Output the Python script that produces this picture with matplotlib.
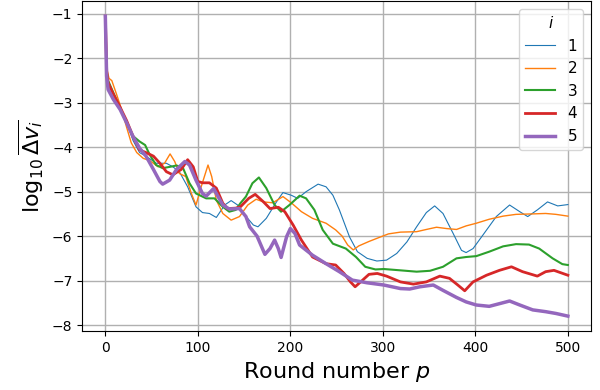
import matplotlib
matplotlib.use("Agg")
import matplotlib.pyplot as plt

# Series 1
p_1 = [0, 1.5, 3, 8.6, 16, 23, 30, 37, 44, 55, 66, 73, 80, 89, 98, 105, 112.5, 120,
       129, 136, 143, 151, 160, 165, 174, 185, 192, 201, 208, 217, 230, 238.6, 246,
       253, 264, 272.5, 283, 293.5, 304, 315, 326, 336.5, 347, 356, 365, 376, 385,
       390, 397.5, 408, 422.6, 437, 448, 456.6, 467, 478, 489, 500]
v_1 = [-1.05, -2.35, -2.6, -2.78, -3.1, -3.44, -3.85, -4.12, -4.2, -4.36, -4.36, -4.44,
       -4.55, -4.89, -5.34, -5.47, -5.49, -5.58, -5.3, -5.2, -5.3, -5.53, -5.75, -5.79,
       -5.6, -5.23, -5.02, -5.08, -5.15, -5.0, -4.83, -4.89, -5.08, -5.41, -6.02, -6.35,
       -6.5, -6.56, -6.54, -6.39, -6.13, -5.79, -5.47, -5.32, -5.49, -5.94, -6.32,
       -6.37, -6.28, -5.98, -5.56, -5.3, -5.45, -5.56, -5.41, -5.23, -5.32, -5.29]

# Series 2
p_2 = [0, 1, 4, 7, 12, 17.6, 23, 28, 34, 41, 48, 57, 64, 70, 75, 80, 87, 93, 98,
       103.6, 111, 115, 120, 127, 136, 145, 154, 163, 171, 181, 192, 201, 212, 224,
       238.6, 249, 256, 262, 268, 274, 285, 296, 306, 319, 336.5, 347, 358, 369,
       379.6, 390, 401, 415, 430, 444, 462, 476, 487, 500]
v_2 = [-1.05, -2.18, -2.45, -2.5, -2.8, -3.15, -3.55, -3.9, -4.12, -4.25, -4.3, -4.44,
       -4.36, -4.15, -4.32, -4.59, -4.66, -5.04, -5.3, -4.89, -4.4, -4.66, -5.19, -5.49,
       -5.64, -5.56, -5.3, -5.17, -5.23, -5.25, -5.11, -5.25, -5.45, -5.6, -5.71, -5.86,
       -6.0, -6.2, -6.31, -6.22, -6.12, -6.03, -5.95, -5.91, -5.9, -5.85, -5.8, -5.83,
       -5.85, -5.77, -5.71, -5.62, -5.55, -5.51, -5.5, -5.49, -5.51, -5.55]

# Series 3
p_3 = [0, 1.5, 3, 8.6, 16, 23, 30, 37, 43, 48, 55, 62, 70, 77, 84, 91, 98, 109, 118,
       127, 134, 141, 146, 152, 159, 166, 174, 183, 190, 199, 210, 217, 226, 235, 246,
       260, 271, 281, 292, 301, 319, 336.5, 351, 365, 379.6, 390, 401, 415, 430, 444,
       458, 469, 483.5, 494, 500]
v_3 = [-1.05, -2.3, -2.5, -2.77, -3.12, -3.45, -3.75, -3.87, -3.95, -4.17, -4.4, -4.47,
       -4.44, -4.41, -4.47, -4.81, -5.04, -5.15, -5.15, -5.34, -5.45, -5.41, -5.26,
       -5.11, -4.81, -4.68, -4.92, -5.3, -5.45, -5.3, -5.09, -5.15, -5.41, -5.86, -6.17,
       -6.28, -6.47, -6.69, -6.75, -6.74, -6.77, -6.8, -6.78, -6.69, -6.5, -6.47,
       -6.45, -6.35, -6.23, -6.18, -6.19, -6.28, -6.5, -6.63, -6.65]

# Series 4
p_4 = [0, 1.5, 3, 8.6, 16, 23, 30, 37, 44, 52, 59, 66, 73, 82, 89, 95, 100, 105,
       112.5, 120, 127, 132, 141, 146, 155, 162, 171, 178, 187, 194, 203, 212, 224,
       238.6, 249, 258, 265, 270, 276, 285, 294, 304, 319, 333, 347, 361.6, 372, 381,
       388.5, 397.5, 412, 426, 439, 451, 467, 476, 485, 500]
v_4 = [-1.05, -2.3, -2.55, -2.8, -3.1, -3.4, -3.76, -4.06, -4.12, -4.2, -4.36, -4.55,
       -4.62, -4.5, -4.28, -4.44, -4.77, -4.8, -4.8, -4.92, -5.26, -5.38, -5.37, -5.34,
       -5.15, -5.06, -5.23, -5.38, -5.35, -5.45, -5.75, -6.09, -6.47, -6.62, -6.65,
       -6.84, -7.03, -7.14, -7.03, -6.86, -6.84, -6.9, -7.03, -7.08, -7.03, -6.9,
       -6.95, -7.1, -7.23, -7.03, -6.88, -6.77, -6.69, -6.8, -6.9, -6.8, -6.77, -6.88]

# Series 5
p_5 = [0, 1.4, 3, 8.6, 16, 23, 30, 37, 44, 52, 59, 62, 69.5, 77, 86, 91, 98, 105, 109,
       117, 127, 134, 145, 152, 156, 164, 172.5, 178, 183, 187, 190, 196, 200, 205,
       210, 224, 238.6, 253, 267, 283, 301, 319, 329, 340, 354.5, 365, 379.6, 390, 401,
       415, 426, 437, 448, 462, 476, 487, 500]
v_5 = [-1.05, -2.4, -2.7, -2.92, -3.15, -3.45, -3.76, -4.02, -4.2, -4.5, -4.77, -4.83,
       -4.74, -4.5, -4.32, -4.4, -4.74, -5.04, -5.1, -4.93, -5.3, -5.39, -5.38, -5.56,
       -5.79, -6.0, -6.41, -6.28, -6.09, -6.28, -6.48, -6.01, -5.83, -5.94, -6.2, -6.43,
       -6.62, -6.8, -6.99, -7.05, -7.1, -7.18, -7.19, -7.14, -7.1, -7.22, -7.38, -7.48,
       -7.55, -7.58, -7.52, -7.46, -7.55, -7.66, -7.7, -7.74, -7.8]

labels = ["1", "2", "3", "4", "5"]
series = [(p_1, v_1), (p_2, v_2), (p_3, v_3), (p_4, v_4), (p_5, v_5)]
widths = [0.8, 1.0, 1.5, 2.0, 2.5]
colors = ["#1f77b4", "#ff7f0e", "#2ca02c", "#d62728", "#9467bd"]

fig = plt.figure(figsize=(6, 3.9), dpi=100)
ax = fig.add_axes([0.137, 0.151, 0.848, 0.846])
for (p, v), lab, lw, c in zip(series, labels, widths, colors):
    ax.plot(p, v, lw=lw, color=c, label=lab)

ax.grid(True, color="#b0b0b0", linewidth=1.0)
ax.set_axisbelow(True)
ax.set_xticks([0, 100, 200, 300, 400, 500])
ax.set_yticks([-8, -7, -6, -5, -4, -3, -2, -1])
ax.tick_params(labelsize=10)
ax.set_xlabel("Round number $p$", fontsize=16)
ax.set_ylabel(r"$\log_{10}\overline{\Delta v_i}$", fontsize=16)
ax.legend(title="$i$", fontsize=11, title_fontsize=11, loc="upper right")
fig.savefig("out.png", dpi=100)
